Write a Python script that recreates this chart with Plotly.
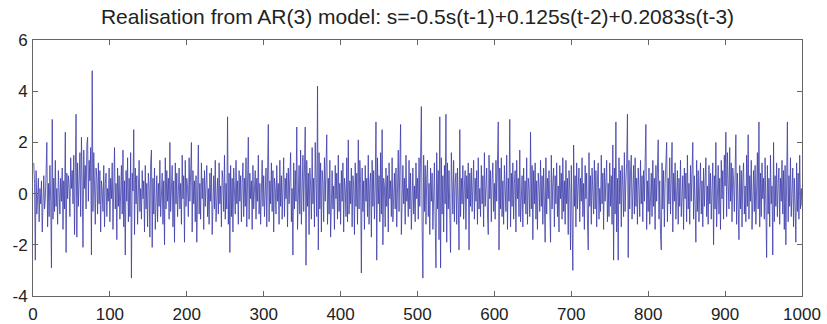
import plotly.graph_objects as go

title_text = "Realisation from AR(3) model: s=-0.5s(t-1)+0.125s(t-2)+0.2083s(t-3)"
x_ticks = [0, 100, 200, 300, 400, 500, 600, 700, 800, 900, 1000]
y_ticks = [-4, -2, 0, 2, 4, 6]

s = [
    1.2, 0.4, -2.6, 0.9, -0.8, 0.3, 0.6, -1.1, 0.2, -0.4,
    0.5, -1.5, 0.1, 0.7, -0.6, -0.2, 0.8, 2.0, -1.3, 0.4,
    -0.9, 1.1, -0.3, -2.9, 2.9, -1.0, 0.6, -0.7, 1.3, -0.5,
    0.2, -1.2, 0.9, 0.1, -0.8, 0.6, -0.3, 1.0, -1.4, 0.5,
    -0.6, 2.4, -2.3, 0.8, -0.2, 0.7, 0.3, -0.9, 1.4, 0.2,
    0.9, -0.4, 1.5, -1.6, 0.6, 3.1, -1.7, 1.2, -0.5, 0.8,
    1.6, -0.9, 2.2, 0.4, -2.1, 1.7, 0.2, 1.1, -0.6, 1.9,
    2.2, -0.3, 1.3, 0.5, 1.8, -2.4, 4.8, -0.7, 1.6, 0.3,
    -1.2, 1.0, 0.6, -0.8, 1.2, -0.4, 0.9, -1.5, 0.5, 0.1,
    -0.7, 1.1, -1.3, 0.4, 0.8, -0.9, 0.2, -0.3, 1.0, -1.1,
    0.6, -0.2, 1.2, -1.4, 0.3, 1.8, -0.6, 0.4, -1.8, 1.0,
    -0.5, 0.7, -1.0, 0.2, 1.1, -0.8, 1.7, -1.3, 0.5, -2.4,
    0.9, -0.3, 1.4, -1.1, 0.6, -0.9, 1.6, -3.3, 0.8, 0.1,
    2.5, -1.6, 1.0, -0.4, 0.7, -1.2, 0.3, 1.3, -0.7, 0.2,
    -1.0, 0.9, -0.2, 0.5, -1.5, 1.1, -0.6, 0.4, -1.3, 0.8,
    0.3, -1.7, 1.2, 1.7, -2.1, 0.6, -0.8, 1.0, -1.4, 0.2,
    0.7, -1.1, 0.4, -0.5, 1.3, -0.9, 0.1, 0.8, -1.2, 0.5,
    -2.0, 1.4, -0.6, 0.9, -0.3, 0.6, -1.0, 2.0, -0.7, 0.3,
    1.1, -1.3, 0.5, -1.9, 1.2, -0.4, 0.8, -0.9, 0.2, 1.0,
    -0.6, 0.4, -1.2, 1.5, -0.2, 0.7, -1.9, 1.3, -0.5, 0.6,
    0.2, -0.9, 1.4, -0.3, 0.8, 2.0, -1.5, 0.9, -0.4, 0.5,
    -1.1, 0.7, -1.9, 0.3, 1.9, -0.8, 0.4, -1.0, 1.2, -0.2,
    0.6, -1.4, 0.9, -0.5, 0.3, 1.1, -0.9, 0.2, -1.2, 0.8,
    -0.3, 1.0, -1.6, 0.5, 0.7, -0.6, 1.3, -1.1, 0.1, 0.6,
    -0.8, 1.2, -0.4, 0.3, -1.3, 0.9, 0.5, -0.7, 1.5, -1.0,
    0.4, -0.6, 3.0, -1.2, 0.8, -2.3, 1.1, -0.9, 0.6, -1.5,
    1.0, 0.2, -0.8, 1.3, -0.4, 0.5, -1.2, 0.9, -0.3, 0.7,
    -1.1, 0.4, 1.2, -0.9, 0.6, -0.5, 1.4, -1.3, 0.3, 2.2,
    -1.0, 0.8, -0.2, 0.5, -1.4, 1.1, -0.6, 0.2, 0.9, -1.0,
    0.6, -0.3, 1.5, -0.8, 0.4, -1.2, 0.9, 1.3, -0.5, 0.7,
    -0.9, 0.3, 1.0, -1.3, 0.8, 2.7, -1.1, 0.5, -0.4, 1.2,
    -0.7, 0.9, -1.5, 0.6, 0.2, -0.8, 1.1, -0.3, 0.4, -1.2,
    1.3, -0.5, 0.7, -1.0, 0.3, 1.4, -0.9, 0.6, -0.2, 0.8,
    -1.3, 1.0, -0.4, 0.5, 1.6, -1.1, 0.2, -2.4, 1.2, -0.6,
    0.9, -0.3, 2.6, -1.4, 0.7, 1.1, -0.8, 1.7, -1.2, 0.4,
    1.5, -0.7, 0.9, 2.6, -2.8, 1.3, -0.5, 0.8, -1.6, 1.0,
    0.3, -1.0, 1.8, -0.4, 0.6, -1.3, 2.0, 0.5, -0.9, 4.2,
    -2.2, 1.6, -0.6, 1.2, -1.5, 0.9, 0.4, -1.1, 1.4, -0.3,
    0.7, 2.3, -1.2, 0.6, -0.8, 1.3, -1.7, 0.5, 0.9, -0.6,
    0.3, -1.4, 1.1, -0.2, 0.8, -1.0, 1.5, -0.7, 0.4, -1.2,
    0.9, -0.3, 1.2, -1.5, 0.6, 0.2, -0.9, 1.4, -1.1, 2.1,
    -0.8, 0.5, -0.4, 1.0, -1.3, 0.7, 0.3, -1.6, 1.2, -0.5,
    0.8, -1.2, 2.1, -0.6, 1.3, 0.4, -3.1, 1.0, -0.7, 0.5,
    -1.4, 1.1, -0.3, 0.6, -0.9, 1.5, -1.2, 0.4, 0.8, -1.7,
    1.3, -0.5, 0.9, -1.0, 0.2, 2.8, -2.6, 1.4, -0.4, 0.7,
    -1.1, 1.6, -0.8, 2.5, -2.0, 0.6, 0.3, -1.3, 1.0, -0.5,
    0.7, -1.5, 1.2, -0.2, 0.5, -0.9, 1.4, -1.1, 0.3, 0.8,
    -0.6, 1.0, -1.3, 0.4, 1.7, -0.7, 0.9, 2.7, -1.6, 0.5,
    1.1, -0.4, 0.6, -1.2, 1.5, -0.3, 0.2, -0.9, 1.3, -0.6,
    0.8, -1.4, 0.5, 1.0, -0.8, 0.3, -1.1, 1.2, -0.2, 0.6,
    -1.0, 1.4, -0.5, 0.9, 3.4, -1.3, -3.3, 1.5, -0.7, 1.1,
    -1.2, 0.6, 1.3, -0.9, 0.4, -1.6, 1.0, -0.3, 0.8, -1.4,
    0.5, 1.2, -1.1, -2.9, 1.6, -0.6, 0.9, -1.8, 3.0, -2.9,
    1.4, -0.8, 0.7, -1.5, 1.1, -0.4, 3.1, -1.9, 1.2, -0.6,
    0.9, -1.3, -2.3, 1.6, 0.5, -0.8, 1.3, -1.1, 0.4, 0.8,
    -1.2, 1.0, -0.3, -2.2, 2.5, -0.9, 0.6, -0.4, 1.1, -1.0,
    0.3, 0.9, -1.4, 0.7, -0.2, 1.2, -2.2, 0.8, -0.5, 1.0,
    -0.7, 0.4, 1.3, -1.0, 0.6, -0.3, 0.9, -1.2, 1.4, -0.6,
    0.2, -0.9, 1.1, -0.4, 0.7, -1.3, 1.6, -0.5, 0.3, 1.0,
    -0.8, -1.6, 1.5, -0.2, 0.9, -1.1, 0.5, 1.2, -0.7, 0.4,
    -1.0, 1.3, -0.3, 0.8, 2.8, -2.2, 1.0, -0.6, 1.4, -0.9,
    0.5, -1.2, 1.1, 0.2, -0.7, 1.5, -1.4, 0.6, -0.3, 2.9,
    -1.3, 0.8, -0.5, 1.2, -1.0, 0.4, 0.9, -1.5, 1.3, -0.2,
    0.6, -0.9, 1.7, -1.1, 0.3, 0.7, -1.3, 1.0, -0.4, 0.5,
    -0.8, 1.4, -1.2, 0.6, 0.2, -0.9, 2.4, -0.6, 1.1, -1.8,
    0.9, -0.4, 1.2, -1.0, 0.5, -1.4, 0.8, 0.3, -0.7, 1.3,
    -0.5, 0.7, -1.2, 1.0, -0.3, -1.9, 1.4, -0.8, 0.6, -0.2,
    0.9, -1.1, -1.9, 1.5, -0.6, 0.4, 1.0, -1.3, 0.7, -0.4,
    1.2, -0.9, 0.3, -1.5, 1.1, -0.2, 0.8, -1.0, 1.4, -0.7,
    0.5, -1.2, 1.3, -0.4, 0.6, -1.6, 0.9, 0.2, -2.2, 1.1,
    -0.8, -3.0, 1.9, -0.5, 0.7, -1.3, 1.2, -0.6, 0.3, 1.0,
    -1.1, 0.6, -0.3, 1.4, -0.9, 0.4, -1.4, 1.1, -0.2, 0.8,
    -1.0, -2.2, 1.6, -0.5, 0.7, -1.2, 1.0, 0.3, -0.8, 1.3,
    -0.6, 0.9, -1.3, 0.5, 1.2, -1.0, 0.2, -0.7, 1.5, -0.4,
    0.8, -1.4, 1.0, -0.3, 0.6, 1.3, -1.1, 0.4, -0.9, 1.2,
    -0.5, 0.7, -1.2, 1.9, -2.6, 1.0, -0.8, 2.8, -1.5, 0.6,
    -2.6, 1.4, -0.4, 0.9, -1.3, 1.1, 0.3, -0.9, 1.6, -0.7,
    0.5, 1.2, 3.1, -2.5, 1.3, -0.6, 0.8, 1.5, -1.0, 0.4,
    1.1, -0.8, 1.4, -0.5, 0.6, -1.2, 1.0, 0.2, -0.9, 1.3,
    -0.4, 0.7, -1.1, 0.9, -0.3, 1.2, 2.7, -1.4, 0.5, -0.7,
    1.0, -1.2, 0.4, 0.8, -0.9, 1.3, -0.5, 0.6, -1.4, 1.1,
    -0.3, 0.7, 2.1, -1.0, 0.5, -1.6, -2.2, 1.2, -0.6, 0.9,
    -1.3, 0.4, 1.1, 2.0, -1.1, 0.6, -0.4, 1.4, -0.8, 0.2,
    2.0, -1.5, 0.8, -0.3, 1.2, -1.0, 0.5, 0.9, -1.2, 0.6,
    -0.5, 1.3, -0.9, 0.3, 0.7, -1.4, 1.0, -0.2, 0.8, -1.1,
    1.5, -0.6, 0.4, -1.2, 1.1, -0.3, 0.6, 2.0, -1.0, 0.7,
    -0.4, -1.9, 1.3, -0.7, 0.9, -1.1, 0.2, 1.2, -0.8, 0.5,
    -1.3, 1.0, -0.5, 0.6, 1.4, -0.9, 0.3, -1.2, 1.1, -0.4,
    0.8, -1.0, 0.5, 1.2, -2.0, 0.7, -0.6, 2.0, -1.3, 0.4,
    1.1, -0.8, 0.6, -1.4, 1.3, -0.2, 0.9, -1.0, 1.5, 0.3,
    2.4, -0.9, 1.6, 0.4, -0.6, 1.8, -0.3, 1.2, -1.1, 1.0,
    0.5, -0.7, 1.4, 2.3, -1.2, 0.8, -0.4, -1.8, 1.1, -0.6,
    0.9, -1.3, 0.6, 1.2, -0.8, 0.3, -1.1, 1.5, -0.5, 2.3,
    -1.0, 0.7, -0.3, 1.3, -1.4, 0.5, 0.9, -0.7, 1.1, -1.2,
    0.4, 1.6, -0.6, 2.8, -1.3, 0.8, -0.9, 1.2, -0.2, 0.6,
    -1.0, 1.4, -0.5, -2.5, 1.1, -0.8, 0.6, -1.3, 1.5, -0.4,
    0.3, -2.4, 2.0, -1.1, 0.7, -0.5, 1.2, -0.9, 0.4, 1.0,
    -1.2, 0.6, -0.3, 1.3, -0.8, 0.9, -1.4, 1.1, -2.0, 0.5,
    2.8, -1.1, 0.7, -0.5, 1.4, -0.9, 0.3, 1.0, -1.3, 0.6,
    -0.4, -1.9, 1.2, -0.7, 0.8, -1.0, 1.5, -0.6, 0.2, -0.5,
]
t = list(range(1, len(s) + 1))

FONT = "Liberation Sans, Arial, Helvetica, sans-serif"

fig = go.Figure()
fig.add_trace(go.Scatter(
    x=t, y=s, mode="lines",
    line=dict(color="rgb(60,60,170)", width=0.8),
    hoverinfo="skip",
))

axis_common = dict(
    showgrid=False, zeroline=False, automargin=False,
    showline=True, linecolor="#666666", linewidth=1,
    mirror="ticks", ticks="inside", ticklen=5, tickcolor="#666666",
    tickfont=dict(family=FONT, size=17, color="#222222"),
)

fig.update_layout(
    width=827, height=324,
    margin=dict(l=33, r=25, t=40, b=28),
    paper_bgcolor="white", plot_bgcolor="white",
    showlegend=False,
    title=dict(
        text=title_text, xref="paper", x=0.5, xanchor="center",
        yref="container", y=0.95, yanchor="middle",
        font=dict(family=FONT, size=21, color="#222222"),
    ),
    xaxis=dict(range=[0, 1000], tickvals=x_ticks, ticktext=[str(v) for v in x_ticks],
               ticklabelstandoff=3, **axis_common),
    yaxis=dict(range=[-4, 6], tickvals=y_ticks, ticktext=[str(v) for v in y_ticks],
               ticklabelstandoff=1, **axis_common),
)

fig.write_html("out.html")
